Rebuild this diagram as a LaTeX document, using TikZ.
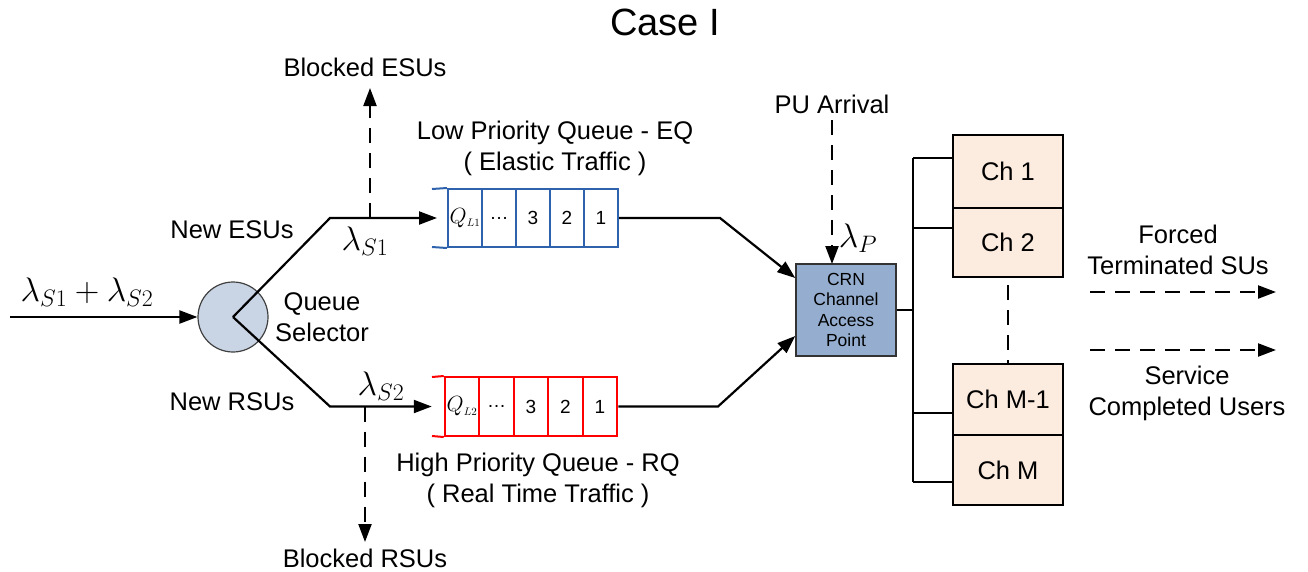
\documentclass[tikz,border=0pt]{standalone}
\usepackage{fix-cm}
\usepackage{fontspec}
\setmainfont{Liberation Sans}
\usetikzlibrary{arrows.meta}
\definecolor{selfill}{HTML}{C9D5E4}
\definecolor{crnfill}{HTML}{95AECF}
\definecolor{chfill}{HTML}{FCEBDF}
\definecolor{qblue}{HTML}{2E62AC}
\definecolor{qred}{HTML}{FF0000}
\begin{document}
\begin{tikzpicture}[x=1pt,y=-1pt,
  lbl/.style={font=\fontsize{25.5}{31}\selectfont, align=center, inner sep=0pt},
  mth/.style={font=\fontsize{34}{38}\selectfont, inner sep=0pt},
  ln/.style={line width=2.2pt, line join=miter},
  arr/.style={ln, -{Triangle[length=18pt,width=13pt]}},
  darr/.style={ln, dash pattern=on 15pt off 10pt, -{Triangle[length=18pt,width=13pt]}},
  cellB/.style={draw=qblue, line width=2pt, minimum width=34pt, minimum height=58pt, inner sep=0pt, font=\fontsize{19}{22}\selectfont},
  cellR/.style={draw=qred, line width=2pt, minimum width=34.5pt, minimum height=59pt, inner sep=0pt, font=\fontsize{19}{22}\selectfont},
  qlab/.style={font=\fontsize{22}{24}\selectfont},
  chbox/.style={draw=black, line width=2pt, fill=chfill, minimum width=110pt, inner sep=0pt, font=\fontsize{25.5}{30}\selectfont}
]
\useasboundingbox (0,0) rectangle (1308,571);

% title
\node[lbl, font=\fontsize{38}{44}\selectfont] (title) at (665,22) {Case I};

% input and selector
\coordinate (inS) at (10,317);
\node[circle, draw=black!75, line width=1.2pt, fill=selfill, minimum size=70pt, inner sep=0pt] (sel) at (233,317) {};
\draw[arr] (inS) -- (sel.west);
\node[mth] (lamIn) at (87,292) {$\lambda_{S1}+\lambda_{S2}$};
\node[lbl] (qsel) at (322,317) {Queue\\Selector};
\node[lbl] (newE) at (232,230) {New ESUs};
\node[lbl] (newR) at (232,402) {New RSUs};

% blue queue (EQ)
\node[cellB, qlab] (b1) at (465,218) {$Q_{\scriptscriptstyle L1}$};
\node[cellB] (b2) at (499,218) {\dots};
\node[cellB] (b3) at (533,218) {3};
\node[cellB] (b4) at (567,218) {2};
\node[cellB] (b5) at (601,218) {1};
\draw[qblue, line width=2pt] (432,189) -- (b1.north west);
\draw[qblue, line width=2pt] (432,247) -- (b1.south west);
\node[lbl] (eqt) at (555,148) {Low Priority Queue - EQ\\( Elastic Traffic )};

% red queue (RQ)
\node[cellR, qlab] (r1) at (462,406.5) {$Q_{\scriptscriptstyle L2}$};
\node[cellR] (r2) at (496.5,406.5) {\dots};
\node[cellR] (r3) at (531,406.5) {3};
\node[cellR] (r4) at (565.5,406.5) {2};
\node[cellR] (r5) at (600,406.5) {1};
\draw[qred, line width=2pt] (432,377) -- (r1.north west);
\draw[qred, line width=2pt] (432,436) -- (r1.south west);
\node[lbl] (rqt) at (538,480) {High Priority Queue - RQ\\( Real Time Traffic )};

% branches
\coordinate (kE) at (330,218);
\coordinate (kR) at (330,406.5);
\draw[arr, shorten >=10pt] (sel.center) -- (kE) -- (b1.west);
\draw[arr, shorten >=12pt] (sel.center) -- (kR) -- (r1.west);
\node[mth] (lamE) at (365,241) {$\lambda_{S1}$};
\node[mth] (lamR) at (381,386) {$\lambda_{S2}$};

% blocked
\node[lbl] (blkE) at (365,67) {Blocked ESUs};
\node[lbl] (blkR) at (365,558) {Blocked RSUs};
\coordinate (dE) at (370,218);
\coordinate (dR) at (365,406.5);
\draw[darr] (dE) -- (370,88);
\draw[darr] (dR) -- (365,542);

% CRN
\node[draw=black!80, line width=1.5pt, fill=crnfill, minimum width=100pt, minimum height=92pt, inner sep=0pt, align=center, font=\fontsize{17.5}{20.5}\selectfont] (crn) at (846,310) {CRN\\Channel\\Access\\Point};
\coordinate (oB) at (720,218);
\coordinate (oR) at (718,406.5);
\draw[arr] (b5.east) -- (oB) -- (crn.west |- 0,278);
\draw[arr] (r5.east) -- (oR) -- (crn.west |- 0,336);
\node[lbl] (pu) at (832,104) {PU Arrival};
\draw[darr] (832,120) -- (832,264);
\node[mth] (lamP) at (858,238) {$\lambda_{P}$};

% channels
\node[chbox, minimum height=73pt] (ch1) at (1008,171) {Ch 1};
\node[chbox, minimum height=69pt] (ch2) at (1008,242.5) {Ch 2};
\node[chbox, minimum height=71pt] (chm1) at (1008,399.5) {Ch M-1};
\node[chbox, minimum height=70pt] (chm) at (1008,470) {Ch M};
\coordinate (bus0) at (913,310);
\coordinate (bus1) at (913,158);
\coordinate (bus2) at (913,228);
\coordinate (bus3) at (913,413);
\coordinate (bus4) at (913,482);
\draw[ln] (crn.east |- bus0) -- (bus0);
\draw[ln] (bus1) -- (bus4);
\draw[ln] (bus1) -- (bus1 -| ch1.west);
\draw[ln] (bus2) -- (bus2 -| ch2.west);
\draw[ln] (bus3) -- (bus3 -| chm1.west);
\draw[ln] (bus4) -- (bus4 -| chm.west);
\draw[ln, dash pattern=on 15pt off 10pt, shorten <=7pt] (ch2.south) -- (chm1.north);

% outputs
\node[lbl] (ftx) at (1178,250) {Forced\\Terminated SUs};
\node[lbl] (scx) at (1187,393) {Service\\Completed Users};
\coordinate (f0) at (1090,292);
\coordinate (f1) at (1276,292);
\coordinate (s0) at (1090,350);
\coordinate (s1) at (1276,350);
\draw[darr] (f0) -- (f1);
\draw[darr] (s0) -- (s1);
\end{tikzpicture}
\end{document}
